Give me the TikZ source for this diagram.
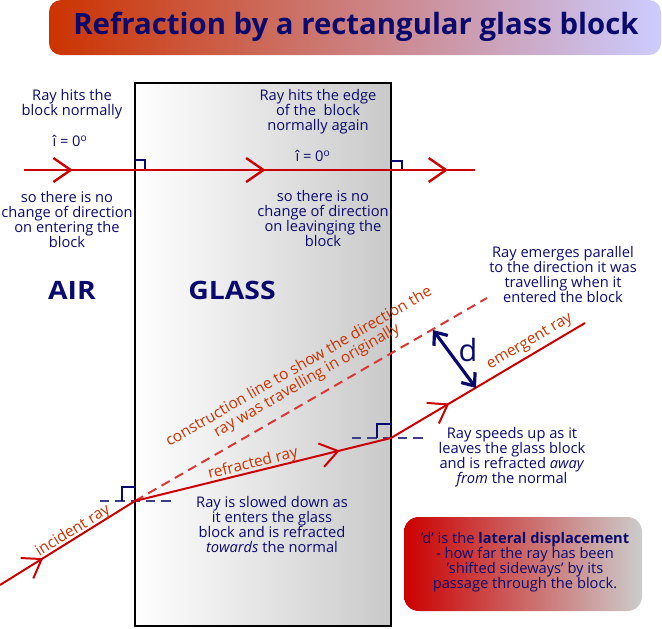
\documentclass[tikz,border=0pt]{standalone}
\usepackage{fontspec}
\setmainfont{Open Sans}
\usetikzlibrary{arrows.meta,decorations.markings}
\definecolor{navy}{RGB}{10,10,110}
\definecolor{labcol}{RGB}{204,51,0}
\definecolor{raycol}{RGB}{204,0,0}
\definecolor{conscol}{RGB}{220,55,55}
\definecolor{normcol}{RGB}{60,60,140}
\definecolor{titleL}{RGB}{204,51,0}
\definecolor{titleR}{RGB}{204,204,255}
\definecolor{boxL}{RGB}{204,0,0}
\definecolor{boxR}{RGB}{204,204,204}
\begin{document}
\begin{tikzpicture}[x=0.75pt,y=-0.75pt,
  txt/.style={text=navy, align=center, inner sep=0pt, font=\fontsize{11}{11.25}\selectfont},
  lab/.style={text=labcol, align=center, inner sep=0pt, font=\fontsize{11.6}{11.8}\selectfont},
  big/.style={text=navy, inner sep=0pt, font=\fontsize{19}{20}\selectfont\bfseries},
  ray/.style={draw=raycol, line width=1.5pt},
  hray/.style={draw=raycol, line width=1.8pt},
  midarrow/.style={postaction={decorate}, decoration={markings, mark=at position #1 with {\arrow{Straight Barb[length=13pt,width=18pt]}}}},
  normline/.style={draw=normcol, line width=2pt, dash pattern=on 7pt off 4.5pt},
  rightang/.style={draw=navy, line width=0.8pt},
  consline/.style={draw=conscol, line width=1.5pt, dash pattern=on 7pt off 4.5pt},
  darrow/.style={draw=navy, line width=2.4pt, {Straight Barb[length=8pt,width=13pt]}-{Straight Barb[length=8pt,width=13pt]}},
]
\useasboundingbox (0,0) rectangle (662,629);
% title
\shade[left color=titleL, right color=titleR, rounded corners=9pt] (49,0) rectangle (661,55);
\node[text=navy, inner sep=0pt, font=\fontsize{22}{24}\selectfont\bfseries] (title) at (356,27) {Refraction by a rectangular glass block};
% glass block
\shade[left color=white, right color=gray!42] (135,83) rectangle (391,626);
\draw[black, line width=1.8pt] (135,83) rectangle (391,626);
% coordinates
\coordinate (h0) at (24,170);
\coordinate (hL) at (135,170);
\coordinate (hR) at (391,170);
\coordinate (h1) at (475,170);
\coordinate (i0) at (0,585);
\coordinate (P) at (135,501);
\coordinate (Q) at (391,438);
\coordinate (e1) at (585,323);
\coordinate (c1) at (487,298);
\coordinate (dA) at (433,330);
\coordinate (dB) at (476,388);
\coordinate (n1a) at (100,501);
\coordinate (n1b) at (175,501);
\coordinate (n2a) at (352,438);
\coordinate (n2b) at (425,438);
% normals and right angles
\draw[normline] (n1a) -- (n1b);
\draw[normline] (n2a) -- (n2b);
\draw[rightang] (122,501) -- (122,487) -- (135,487);
\draw[rightang] (377,438) -- (377,424) -- (391,424);
\draw[rightang] (135,160) -- (145,160) -- (145,170);
\draw[rightang] (391,161) -- (402,161) -- (402,170);
% horizontal ray
\draw[hray, midarrow=0.44] (h0) -- (hL);
\draw[hray, midarrow=0.51] (hL) -- (hR);
\draw[hray, midarrow=0.68] (hR) -- (h1);
% construction line
\draw[consline] (P) -- (c1);
% refracted rays
\draw[ray, midarrow=0.32] (i0) -- (P);
\draw[ray, midarrow=0.80] (P) -- (Q);
\draw[ray, midarrow=0.30] (Q) -- (e1);
% lateral displacement
\draw[darrow] (dA) -- (dB);
\node[text=navy, inner sep=0pt, font=\fontsize{23}{24}\selectfont] (d) at (468,350) {d};
% texts
\node[txt] (t1) at (72,104.5) {Ray hits the\\block normally};
\node[txt] (t2) at (70,141) {î = 0\textsuperscript{o}};
\node[txt] (t3) at (67,219.5) {so there is no\\change of direction\\on entering the\\block};
\node[txt] (t4) at (318,112) {Ray hits the edge\\of the\ \ block\\normally again};
\node[txt] (t5) at (313,156) {î = 0\textsuperscript{o}};
\node[txt] (t6) at (323,218.5) {so there is no\\change of direction\\on leavinging the\\block};
\node[big] (air) at (72,290) {\scalebox{1.12}[1]{AIR}};
\node[big] (glass) at (232,290) {\scalebox{1.12}[1]{GLASS}};
\node[txt] (t7) at (563,274.5) {Ray emerges parallel\\to the direction it was\\travelling when it\\entered the block};
\node[txt] (t8) at (512,457.5) {Ray speeds up as it\\leaves the glass block\\and is refracted \textit{away}\\\textit{from} the normal};
\node[txt] (t9) at (272,524.5) {Ray is slowed down as\\it enters the glass\\block and is refracted\\\textit{towards} the normal};
% ray labels
\node[lab, rotate=31.9] (linc) at (73,531) {incident ray};
\node[lab, rotate=13.8] (lref) at (253,464) {refracted ray};
\node[lab, rotate=30.7] (lem) at (530,342) {emergent ray};
\node[lab, rotate=30] (lcon) at (303,374) {construction line to show the direction the\\ray was travelling in originally};
% info box
\shade[left color=boxL, right color=boxR, rounded corners=11pt] (404,517) rectangle (642,611);
\node[txt] (t10) at (525,562.5) {'d' is the \textbf{lateral displacement}\\- how far the ray has been\\'shifted sideways' by its\\passage through the block.};
\end{tikzpicture}
\end{document}
